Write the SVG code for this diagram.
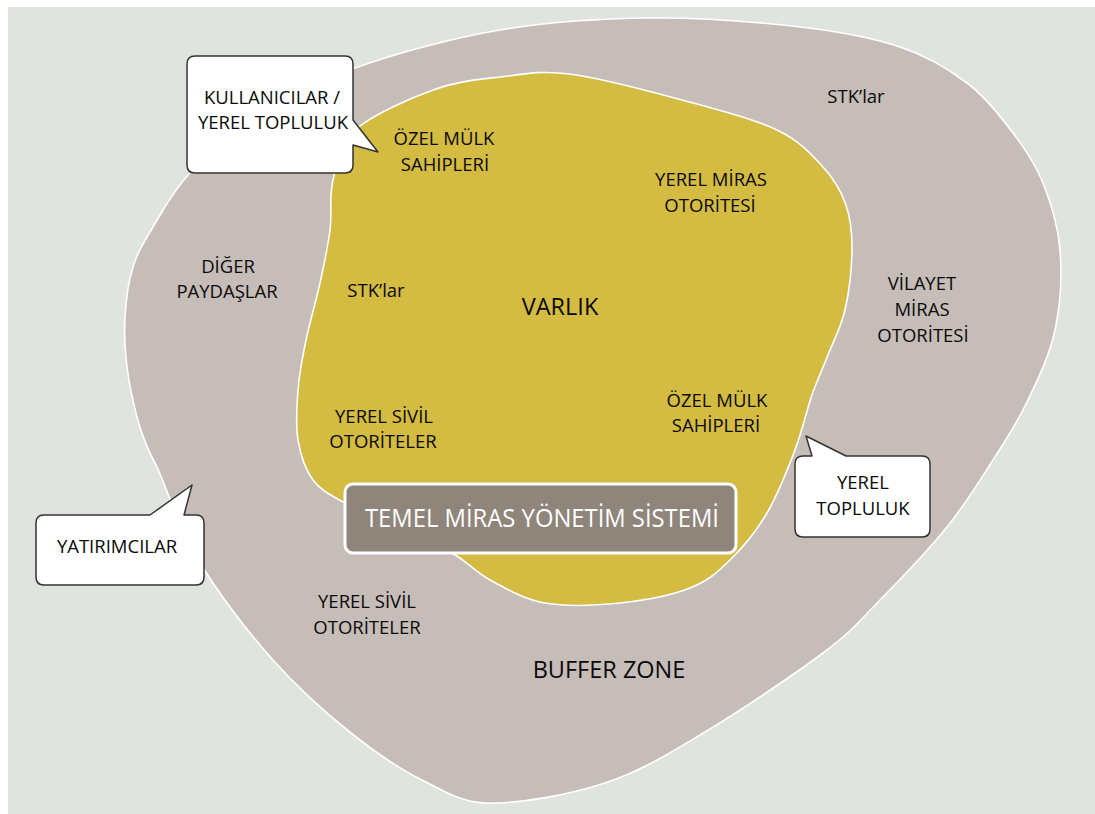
<svg xmlns="http://www.w3.org/2000/svg" width="1095" height="814" viewBox="0 0 1095 814">
<style>
.lbl{font-family:"Open Sans","Noto Sans","Liberation Sans",sans-serif;font-size:18.5px;fill:#0a0a0a;text-anchor:middle}
.big{font-size:23.5px}
.call{fill:#ffffff;stroke:#333333;stroke-width:1.5;stroke-linejoin:round}
.blob{stroke:#ffffff;stroke-width:1.6}
</style>
<rect x="0" y="0" width="1095" height="814" fill="#ffffff"/>
<rect x="8" y="7" width="1087" height="807" fill="#e0e4df"/>
<g id="buffer-zone">
<path class="blob" fill="#c6bdb8" d="M 485,803 C 520,804 570.8,794.3 605,783 C 639.2,771.7 663.7,756.7 700,735 C 736.3,713.3 793,675.5 823,653 C 853,630.5 859.3,621 880,600 C 900.7,579 928.2,550.3 947,527 C 965.8,503.7 979.5,481.2 993,460 C 1006.5,438.8 1017.7,421.7 1028,400 C 1038.3,378.3 1049.7,355 1055,330 C 1060.3,305 1062,274.5 1060,250 C 1058,225.5 1050.8,202.5 1043,183 C 1035.2,163.5 1025.7,149.7 1013,133 C 1000.3,116.3 985.8,97.3 967,83 C 948.2,68.7 927.8,56.3 900,47 C 872.2,37.7 841.7,31.8 800,27 C 758.3,22.2 700,17.5 650,18 C 600,18.5 549.2,21.7 500,30 C 450.8,38.3 395,53.8 355,68 C 315,82.2 287.5,97.5 260,115 C 232.5,132.5 207.8,154.3 190,173 C 172.2,191.7 162.5,211.3 153,227 C 143.5,242.7 137.7,252 133,267 C 128.3,282 126,300.3 125,317 C 124,333.7 125,350.3 127,367 C 129,383.7 132.7,400.3 137,417 C 141.3,433.7 146,447 157,467 C 168,491 180,530.8 200,563 C 220,595.2 247.8,631.7 273,660 C 298.2,688.3 326.5,713.5 351,733 C 375.5,752.5 396,767 420,779 C 444,791 460,802 485,803 Z"/>
<text class="lbl" x="856" y="103">STK’lar</text>
<text class="lbl" x="228" y="273">DİĞER</text>
<text class="lbl" x="227" y="298">PAYDAŞLAR</text>
<text class="lbl" x="922" y="290">VİLAYET</text>
<text class="lbl" x="922" y="316">MİRAS</text>
<text class="lbl" x="923" y="342">OTORİTESİ</text>
<text class="lbl" x="367" y="608">YEREL SİVİL</text>
<text class="lbl" x="367" y="634">OTORİTELER</text>
<text class="lbl big" x="609" y="678">BUFFER ZONE</text>
</g>
<g id="varlik">
<path class="blob" fill="#d4bb42" d="M 570,74 C 600.3,77.8 647.5,90.7 682,100 C 716.5,109.3 753.5,118.8 777,130 C 800.5,141.2 811.5,154.5 823,167 C 834.5,179.5 841.2,191.2 846,205 C 850.8,218.8 852.2,232.5 852,250 C 851.8,267.5 849,292.5 845,310 C 841,327.5 833.5,340.8 828,355 C 822.5,369.2 817.5,379.2 812,395 C 806.5,410.8 802.5,430.3 795,450 C 787.5,469.7 777.8,494.7 767,513 C 756.2,531.3 742.8,547.5 730,560 C 717.2,572.5 708.3,580.8 690,588 C 671.7,595.2 644.2,600.5 620,603 C 595.8,605.5 566.7,606.8 545,603 C 523.3,599.2 505,588 490,580 C 475,572 470,563.7 455,555 C 440,546.3 418.3,536.7 400,528 C 381.7,519.3 359.5,511 345,503 C 330.5,495 320.8,490.5 313,480 C 305.2,469.5 300.5,455 298,440 C 295.5,425 296.7,406.7 298,390 C 299.3,373.3 302.3,357.8 306,340 C 309.7,322.2 316,301.3 320,283 C 324,264.7 327.8,247.2 330,230 C 332.2,212.8 328.8,196.7 333,180 C 337.2,163.3 338.3,145 355,130 C 371.7,115 408.8,98.8 433,90 C 457.2,81.2 477.2,79.7 500,77 C 522.8,74.3 539.7,70.2 570,74 Z"/>
<text class="lbl" x="444" y="145">ÖZEL MÜLK</text>
<text class="lbl" x="445" y="171">SAHİPLERİ</text>
<text class="lbl" x="711" y="186">YEREL MİRAS</text>
<text class="lbl" x="710" y="212">OTORİTESİ</text>
<text class="lbl" x="376" y="297">STK’lar</text>
<text class="lbl big" x="560" y="315">VARLIK</text>
<text class="lbl" x="717" y="407">ÖZEL MÜLK</text>
<text class="lbl" x="716" y="432">SAHİPLERİ</text>
<text class="lbl" x="384" y="423">YEREL SİVİL</text>
<text class="lbl" x="383" y="448">OTORİTELER</text>
</g>
<g id="temel-miras-yonetim-sistemi">
<rect x="345" y="484" width="391" height="69" rx="8" ry="8" fill="#8f857b" stroke="#ffffff" stroke-width="3"/>
<text class="lbl" x="542" y="527" style="font-size:25px;fill:#ffffff" textLength="354" lengthAdjust="spacingAndGlyphs">TEMEL MİRAS YÖNETİM SİSTEMİ</text>
</g>
<g id="callout-kullanicilar">
<path class="call" d="M 195,56 H 345 Q 353,56 353,64 V 120 L 378,152 L 353,145 V 165 Q 353,173 345,173 H 195 Q 187,173 187,165 V 64 Q 187,56 195,56 Z"/>
<text class="lbl" x="272" y="104">KULLANICILAR /</text>
<text class="lbl" x="273" y="129">YEREL TOPLULUK</text>
</g>
<g id="callout-yatirimcilar">
<path class="call" d="M 44,515 H 150 L 192,485 L 184,515 H 196 Q 204,515 204,523 V 577 Q 204,585 196,585 H 44 Q 36,585 36,577 V 523 Q 36,515 44,515 Z"/>
<text class="lbl" x="117" y="553">YATIRIMCILAR</text>
</g>
<g id="callout-yerel-topluluk">
<path class="call" d="M 803,456 H 812 L 806,436 L 846,456 H 922 Q 930,456 930,464 V 529 Q 930,537 922,537 H 803 Q 795,537 795,529 V 464 Q 795,456 803,456 Z"/>
<text class="lbl" x="863" y="489">YEREL</text>
<text class="lbl" x="863" y="515">TOPLULUK</text>
</g>
<g id="connectors"></g>
</svg>
